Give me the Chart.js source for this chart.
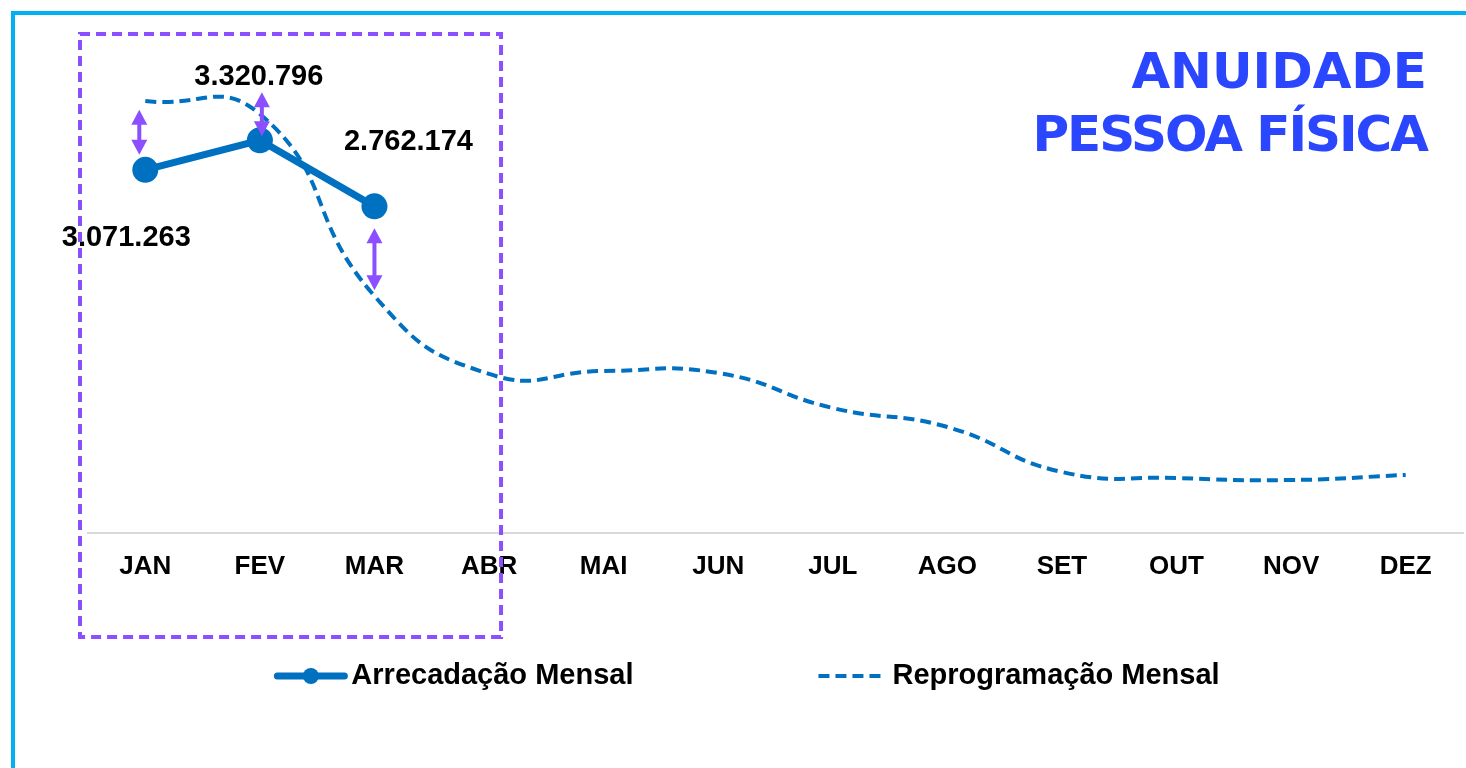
<!DOCTYPE html>
<html>
<head>
<meta charset="utf-8">
<script src="https://cdn.jsdelivr.net/npm/chart.js@4/dist/chart.umd.min.js"></script>
<style>
  html, body { margin: 0; padding: 0; background: #fff; }
  body { width: 1466px; height: 768px; position: relative; overflow: hidden; }
  #frame { position: absolute; left: 11px; top: 11px; width: 1500px; height: 800px;
           border-left: 4px solid #00b0f0; border-top: 4px solid #00b0f0; }
  #chartBox { position: absolute; left: 0; top: 0; width: 1466px; height: 768px; }
  #title { position: absolute; right: 39px; top: 40px; text-align: right;
           font: bold 50px/63px "DejaVu Sans", sans-serif; color: #2a46ff; }
</style>
</head>
<body>
<div id="frame"></div>
<div id="chartBox"><canvas id="chart" width="1466" height="768"></canvas></div>
<div id="title"><div>ANUIDADE</div><div style="letter-spacing:-2px">PESSOA FÍSICA</div></div>

<script>
// data
const months = ['JAN', 'FEV', 'MAR', 'ABR', 'MAI', 'JUN', 'JUL', 'AGO', 'SET', 'OUT', 'NOV', 'DEZ'];
const arrecadacao = [3071263, 3320796, 2762174, null, null, null, null, null, null, null, null, null];
const reprogramacao = [3653000, 3543000, 2004000, 1345000, 1370000, 1353000, 1057000, 896000, 516000, 465000, 448000, 491000];
const yMin = 0;
const yMax = 4000000;

const BLUE = '#0070c0';
const PURPLE = '#8b4fff';
const FONT = '"Liberation Sans", Arial, sans-serif';

// label / arrow placement relative to each actual point (px)
const labelOffsets = [[-19, 68], [-1, -63], [34, -64]];
const arrowSpans = [[-6, -60, -15], [2, -48, -4], [0, 22, 84]]; // dx, top, bottom

const fmt = v => String(v).replace(/\B(?=(\d{3})+(?!\d))/g, '.');

function drawArrow(ctx, x, y1, y2) {
  const hw = 8, hh = 15;
  ctx.beginPath();
  ctx.moveTo(x, y1 + hh - 1);
  ctx.lineTo(x, y2 - hh + 1);
  ctx.lineWidth = 4;
  ctx.strokeStyle = PURPLE;
  ctx.setLineDash([]);
  ctx.stroke();
  ctx.fillStyle = PURPLE;
  ctx.beginPath();
  ctx.moveTo(x, y1); ctx.lineTo(x + hw, y1 + hh); ctx.lineTo(x - hw, y1 + hh); ctx.closePath();
  ctx.fill();
  ctx.beginPath();
  ctx.moveTo(x, y2); ctx.lineTo(x + hw, y2 - hh); ctx.lineTo(x - hw, y2 - hh); ctx.closePath();
  ctx.fill();
}

const overlay = {
  id: 'overlay',
  afterDatasetsDraw(chart) {
    const { ctx, chartArea, scales: { x } } = chart;
    const meta = chart.getDatasetMeta(0);
    ctx.save();

    // value labels
    ctx.font = 'bold 29px ' + FONT;
    ctx.fillStyle = '#000';
    ctx.textAlign = 'center';
    ctx.textBaseline = 'middle';
    arrecadacao.forEach((v, i) => {
      if (v == null) return;
      const p = meta.data[i];
      const o = labelOffsets[i];
      ctx.fillText(fmt(v), p.x + o[0], p.y + o[1]);
    });

    // gap arrows
    arrecadacao.forEach((v, i) => {
      if (v == null) return;
      const p = meta.data[i];
      const a = arrowSpans[i];
      drawArrow(ctx, p.x + a[0], p.y + a[1], p.y + a[2]);
    });

    // highlight box JAN..ABR
    ctx.setLineDash([10, 6]);
    ctx.lineWidth = 4;
    ctx.strokeStyle = PURPLE;
    const bl = chartArea.left - 8, br = x.getPixelForValue(3) + 12;
    const bt = chartArea.top - 26, bb = chartArea.bottom + 104;
    ctx.strokeRect(bl, bt, br - bl, bb - bt);

    // legend
    ctx.setLineDash([]);
    ctx.font = 'bold 29px ' + FONT;
    ctx.textAlign = 'left';
    const sym = 73, gapText = 4, gapItems = 182, ly = 676;
    const items = chart.data.datasets.map(ds => ({ ds, w: ctx.measureText(ds.label).width }));
    const total = items.reduce((s, it) => s + sym + gapText + it.w, 0) + gapItems * (items.length - 1);
    let lx = chart.width / 2 + 14 - total / 2;
    items.forEach(({ ds, w }) => {
      ctx.strokeStyle = ds.borderColor;
      ctx.lineWidth = ds.borderWidth;
      ctx.setLineDash(ds.borderDash || []);
      ctx.lineCap = ds.borderDash ? 'butt' : 'round';
      ctx.beginPath();
      ctx.moveTo(lx + 3, ly);
      ctx.lineTo(lx + sym - 3, ly);
      ctx.stroke();
      ctx.setLineDash([]);
      if (ds.pointRadius > 0) {
        ctx.fillStyle = ds.borderColor;
        ctx.beginPath();
        ctx.arc(lx + sym / 2, ly, 8, 0, Math.PI * 2);
        ctx.fill();
      }
      ctx.fillStyle = '#000';
      ctx.fillText(ds.label, lx + sym + gapText, ly);
      lx += sym + gapText + w + gapItems;
    });

    ctx.restore();
  }
};

new Chart(document.getElementById('chart'), {
  type: 'line',
  data: {
    labels: months,
    datasets: [
      {
        label: 'Arrecadação Mensal',
        data: arrecadacao,
        borderColor: BLUE,
        backgroundColor: BLUE,
        borderWidth: 7,
        pointRadius: 13,
        pointHoverRadius: 13,
        pointBorderWidth: 0,
        pointBackgroundColor: BLUE,
        tension: 0
      },
      {
        label: 'Reprogramação Mensal',
        data: reprogramacao,
        borderColor: BLUE,
        backgroundColor: BLUE,
        borderWidth: 4,
        borderDash: [11, 6],
        pointRadius: 0,
        pointHoverRadius: 0,
        tension: 0.5
      }
    ]
  },
  options: {
    responsive: false,
    animation: false,
    devicePixelRatio: 1,
    layout: { autoPadding: false, padding: { left: 88, right: 3, top: 60, bottom: 0 } },
    plugins: { legend: { display: false }, tooltip: { enabled: false } },
    scales: {
      x: {
        offset: true,
        grid: { display: false, drawTicks: false },
        border: { display: true, color: '#d9d9d9', width: 2 },
        ticks: { color: '#000', font: { family: FONT, size: 26, weight: 'bold' }, padding: 18, maxRotation: 0, autoSkip: false },
        afterFit(scale) { scale.height = 235; }
      },
      y: { display: false, min: yMin, max: yMax }
    }
  },
  plugins: [overlay]
});
</script>
</body>
</html>
